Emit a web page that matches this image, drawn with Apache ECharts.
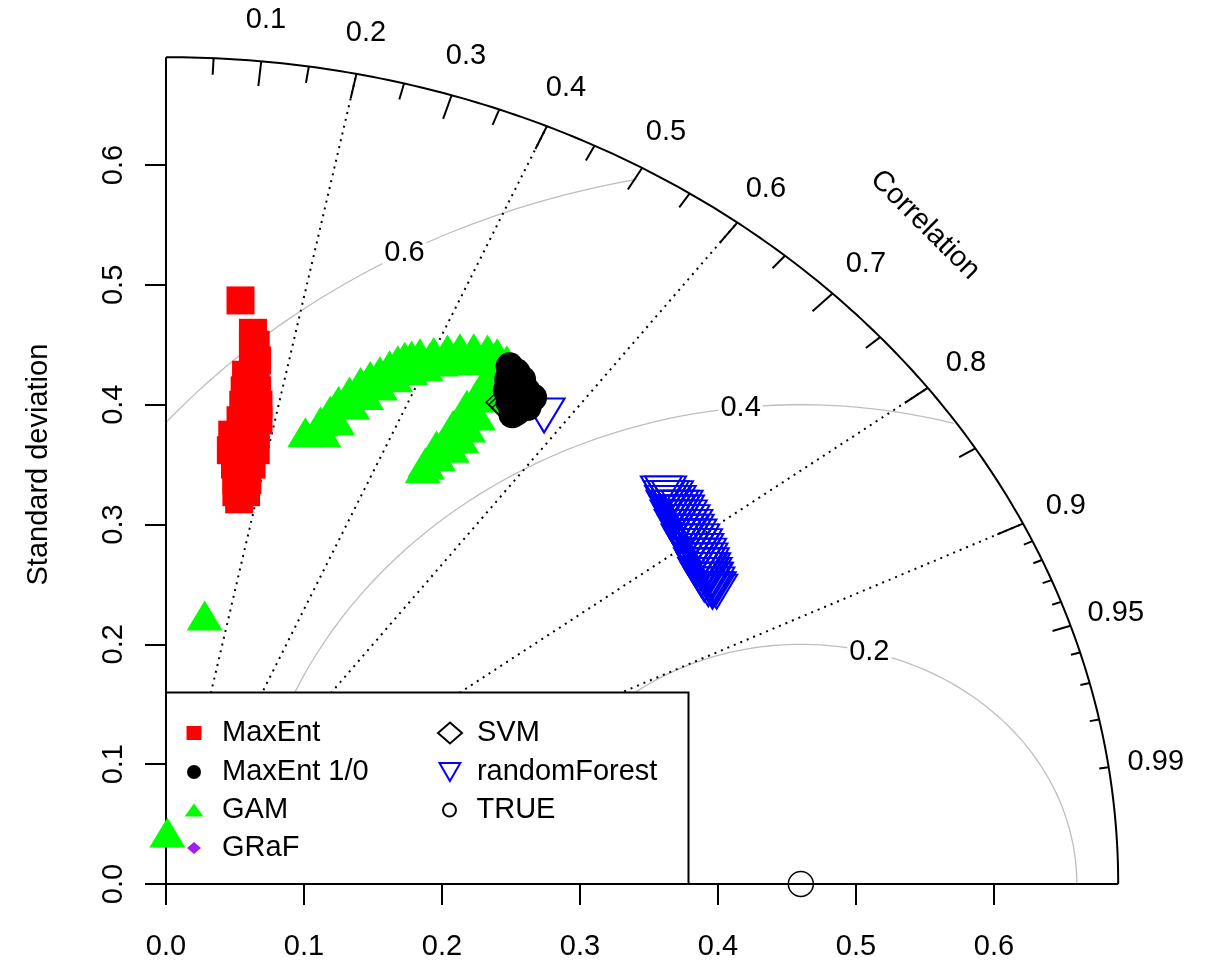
<!DOCTYPE html>
<html>
<head>
<meta charset="utf-8">
<script src="https://cdn.jsdelivr.net/npm/echarts@6/dist/echarts.min.js"></script>
<style>
  html, body { margin: 0; padding: 0; background: #ffffff; }
  #chart { width: 1207px; height: 962px; }
</style>
</head>
<body>
<div id="chart"></div>
<script>
// ---- Taylor diagram geometry ----
const MAX_SD = 0.69;          // radius of the outer correlation arc
const REF_SD = 0.46;          // standard deviation of the reference ("TRUE")
const sdTicks = [0, 0.1, 0.2, 0.3, 0.4, 0.5, 0.6];
const corrMajor = [0.1, 0.2, 0.3, 0.4, 0.5, 0.6, 0.7, 0.8, 0.9];
const corrMedium = [0.05, 0.15, 0.25, 0.35, 0.45, 0.55, 0.65, 0.75, 0.85, 0.95];
const corrMinor = [0.91, 0.92, 0.93, 0.94, 0.96, 0.97, 0.98, 0.99];
const corrRays = [0.2, 0.4, 0.6, 0.8, 0.9];
const corrLabels = ['0.1', '0.2', '0.3', '0.4', '0.5', '0.6', '0.7', '0.8', '0.9', '0.95', '0.99'];
const rmsLevels = [0.2, 0.4, 0.6];
const rmsLabelAngles = [1.32, 1.68, 2.07];

// ---- model results: [sd * correlation, sd * sqrt(1 - correlation^2)] ----
const maxEnt = [
  [0.054, 0.487],
  [0.063, 0.460],
  [0.063, 0.450], [0.065, 0.450],
  [0.063, 0.437], [0.066, 0.437],
  [0.058, 0.425], [0.065, 0.425],
  [0.057, 0.412], [0.066, 0.412],
  [0.056, 0.400], [0.067, 0.400],
  [0.054, 0.387], [0.067, 0.387],
  [0.048, 0.375], [0.057, 0.375], [0.065, 0.375],
  [0.047, 0.362], [0.057, 0.362], [0.065, 0.362],
  [0.050, 0.350], [0.062, 0.350],
  [0.051, 0.337], [0.059, 0.337],
  [0.051, 0.327], [0.058, 0.327],
  [0.053, 0.321]
];
const maxEnt10 = [
  [0.249, 0.432], [0.254, 0.427], [0.248, 0.421], [0.258, 0.421],
  [0.247, 0.412], [0.251, 0.412], [0.261, 0.412], [0.266, 0.406],
  [0.257, 0.404], [0.249, 0.402], [0.262, 0.398], [0.254, 0.394], [0.251, 0.392]
];
const gam = [
  // outer arm
  [0.101, 0.377], [0.112, 0.386], [0.119, 0.395], [0.125, 0.403], [0.133, 0.411],
  [0.141, 0.419], [0.148, 0.424], [0.155, 0.428], [0.162, 0.433], [0.168, 0.437],
  [0.173, 0.440], [0.178, 0.441], [0.184, 0.443], [0.194, 0.444], [0.204, 0.446],
  [0.213, 0.447], [0.223, 0.447], [0.233, 0.446], [0.240, 0.443], [0.247, 0.437],
  [0.130, 0.404], [0.141, 0.411], [0.149, 0.418], [0.159, 0.425], [0.170, 0.431],
  [0.180, 0.436], [0.191, 0.439], [0.202, 0.441], [0.213, 0.442], [0.224, 0.442],
  [0.235, 0.441],
  [0.114, 0.377], [0.124, 0.387], [0.135, 0.400], [0.145, 0.408], [0.155, 0.416],
  [0.166, 0.423], [0.177, 0.429], [0.188, 0.432], [0.199, 0.436], [0.209, 0.437],
  [0.220, 0.438], [0.231, 0.437],
  // inner arm
  [0.242, 0.433], [0.238, 0.425], [0.235, 0.427],
  [0.230, 0.416], [0.218, 0.400], [0.208, 0.383], [0.196, 0.366], [0.189, 0.350],
  [0.231, 0.406], [0.226, 0.391], [0.219, 0.381], [0.214, 0.372], [0.207, 0.364],
  [0.197, 0.357], [0.188, 0.352],
  [0.225, 0.408], [0.222, 0.396], [0.213, 0.389], [0.206, 0.375], [0.201, 0.369],
  [0.193, 0.358], [0.186, 0.347],
  // isolated runs
  [0.028, 0.224], [0.001, 0.043]
];
const graf = [];
const svm = [
  [0.245, 0.402], [0.247, 0.400], [0.249, 0.397], [0.262, 0.406]
];
const randomForest = [
  [0.274, 0.391],
  [0.359, 0.326], [0.362, 0.326],
  [0.361, 0.322], [0.364, 0.322], [0.367, 0.322],
  [0.362, 0.318], [0.366, 0.318], [0.369, 0.318],
  [0.363, 0.314], [0.367, 0.314], [0.371, 0.314], [0.374, 0.314],
  [0.365, 0.310], [0.368, 0.310], [0.372, 0.310], [0.375, 0.310],
  [0.366, 0.306], [0.370, 0.306], [0.373, 0.306], [0.377, 0.306],
  [0.368, 0.302], [0.371, 0.302], [0.375, 0.302], [0.379, 0.302],
  [0.369, 0.298], [0.373, 0.298], [0.377, 0.298], [0.381, 0.298],
  [0.371, 0.294], [0.375, 0.294], [0.378, 0.294], [0.382, 0.294],
  [0.373, 0.290], [0.376, 0.290], [0.380, 0.290], [0.384, 0.290],
  [0.374, 0.286], [0.378, 0.286], [0.382, 0.286], [0.386, 0.286],
  [0.376, 0.282], [0.380, 0.282], [0.384, 0.282], [0.388, 0.282],
  [0.378, 0.278], [0.382, 0.278], [0.386, 0.278], [0.389, 0.278],
  [0.380, 0.274], [0.384, 0.274], [0.387, 0.274], [0.391, 0.274],
  [0.382, 0.270], [0.385, 0.270], [0.389, 0.270], [0.392, 0.270],
  [0.383, 0.266], [0.387, 0.266], [0.390, 0.266], [0.393, 0.266],
  [0.385, 0.262], [0.389, 0.262], [0.392, 0.262], [0.394, 0.262],
  [0.386, 0.258], [0.390, 0.258], [0.393, 0.258], [0.395, 0.258],
  [0.388, 0.254], [0.392, 0.254], [0.395, 0.254], [0.396, 0.254],
  [0.390, 0.250], [0.394, 0.250], [0.397, 0.250],
  [0.393, 0.246], [0.396, 0.246], [0.398, 0.246],
  [0.396, 0.244], [0.399, 0.244]
];
const reference = [[REF_SD, 0]];

const FONT = '"Liberation Sans", Arial, Helvetica, sans-serif';
const FS = 29;

// Diagram frame: arc, axes, correlation ticks/rays/labels, centred RMS contours
function renderFrame(params, api) {
  const P = (x, y) => api.coord([x, y]);
  const polar = (r, c) => P(r * c, r * Math.sqrt(1 - c * c));
  const kids = [];
  const seg = (a, b, style) => kids.push({
    type: 'line', shape: { x1: a[0], y1: a[1], x2: b[0], y2: b[1] },
    style: Object.assign({ stroke: '#000', lineWidth: 2 }, style)
  });
  const text = (pt, str, extra) => kids.push(Object.assign({
    type: 'text', x: pt[0], y: pt[1],
    style: { text: str, fill: '#000', fontSize: FS, fontFamily: FONT, align: 'center', verticalAlign: 'middle' }
  }, extra || {}));

  // centred RMS difference contours around the reference point
  rmsLevels.forEach(function (g) {
    let pts = [];
    const flush = function () {
      if (pts.length > 1) kids.push({ type: 'polyline', shape: { points: pts },
        style: { stroke: '#bebebe', lineWidth: 1.3, fill: null } });
      pts = [];
    };
    for (let t = 0; t <= Math.PI + 1e-9; t += 0.03) {
      const x = REF_SD + g * Math.cos(t), y = g * Math.sin(t);
      if (x < 0) {
        if (pts.length) pts.push(P(0, Math.sqrt(g * g - REF_SD * REF_SD)));
        flush();
        break;
      }
      if (Math.hypot(x, y) < MAX_SD) pts.push(P(x, y)); else flush();
    }
    flush();
  });

  // correlation rays
  corrRays.forEach(function (c) {
    seg(P(0, 0), polar(MAX_SD, c), { lineDash: [2, 5], lineWidth: 2 });
  });

  // outer arc and the two straight axes
  const arc = [];
  for (let d = 0; d <= 90.0001; d += 0.5) {
    const a = d * Math.PI / 180;
    arc.push(P(MAX_SD * Math.cos(a), MAX_SD * Math.sin(a)));
  }
  kids.push({ type: 'polyline', shape: { points: arc }, style: { stroke: '#000', lineWidth: 2, fill: null } });
  seg(P(0, 0), P(0, MAX_SD));
  seg(P(0, 0), P(MAX_SD, 0));

  // tick marks on the arc
  corrMajor.forEach(c => seg(polar(MAX_SD, c), polar(0.97 * MAX_SD, c)));
  corrMedium.forEach(c => seg(polar(MAX_SD, c), polar(0.98 * MAX_SD, c)));
  corrMinor.forEach(c => seg(polar(MAX_SD, c), polar(0.99 * MAX_SD, c)));

  // correlation labels
  corrLabels.forEach(s => text(polar(1.05 * MAX_SD, parseFloat(s)), s));
  text(P(0.55, 0.55), 'Correlation', { rotation: -Math.PI / 4 });

  // contour labels
  rmsLevels.forEach(function (g, i) {
    const a = rmsLabelAngles[i];
    kids.push({
      type: 'text', x: P(REF_SD + g * Math.cos(a), 0)[0], y: P(0, g * Math.sin(a))[1],
      style: { text: String(g), fill: '#000', fontSize: FS, fontFamily: FONT,
        align: 'center', verticalAlign: 'middle', backgroundColor: '#fff', padding: [0, 2] }
    });
  });
  return { type: 'group', children: kids };
}

const solid = color => ({ color: color, opacity: 1 });
const hollow = (color, w) => ({ color: 'rgba(0,0,0,0)', borderColor: color, borderWidth: w || 1.5, opacity: 1 });

// legend entries: one legend component each so every key gets its own symbol size
const DOWN_TRIANGLE = 'path://M0,0L20,0L10,17.3Z';
const legendItems = [
  { name: 'MaxEnt', col: 0, row: 0, w: 15, h: 14 },
  { name: 'MaxEnt 1/0', col: 0, row: 1, w: 14, h: 14 },
  { name: 'GAM', col: 0, row: 2, w: 19, h: 13 },
  { name: 'GRaF', col: 0, row: 3, w: 14, h: 12 },
  { name: 'SVM', col: 1, row: 0, w: 24, h: 21 },
  { name: 'randomForest', col: 1, row: 1, w: 21, h: 18, icon: DOWN_TRIANGLE },
  { name: 'TRUE', col: 1, row: 2, w: 14, h: 13 }
];
const colIconX = [194, 449];
const colTextX = [222, 476];
const rowY = [733, 772, 810, 848];
const LINE_H = 30;

const legends = legendItems.map(function (it) {
  const left = colIconX[it.col] - it.w / 2;
  return {
    data: [it.icon ? { name: it.name, icon: it.icon } : it.name],
    orient: 'vertical', selectedMode: false, padding: 0, z: 6,
    left: left, top: rowY[it.row] - LINE_H / 2,
    itemWidth: it.w, itemHeight: it.h, itemGap: 0,
    textStyle: { fontSize: FS, fontFamily: FONT, color: '#000', lineHeight: LINE_H,
      padding: [0, 0, 0, colTextX[it.col] - (left + it.w + 5)] }
  };
});

const option = {
  backgroundColor: '#ffffff',
  animation: false,
  grid: { left: 166, right: 75, top: 45.2, bottom: 78, containLabel: false, outerBoundsMode: 'none' },
  xAxis: {
    type: 'value', min: 0, max: 0.7,
    axisLine: { show: false }, splitLine: { show: false },
    axisTick: { customValues: sdTicks, length: 21, lineStyle: { color: '#000', width: 2 } },
    axisLabel: { customValues: sdTicks, formatter: v => v.toFixed(1), fontSize: FS, fontFamily: FONT, color: '#000', margin: 48 }
  },
  yAxis: {
    type: 'value', min: 0, max: 0.7,
    name: 'Standard deviation', nameLocation: 'middle', nameGap: 113,
    nameTextStyle: { fontSize: FS, fontFamily: FONT, color: '#000' },
    axisLine: { show: false }, splitLine: { show: false },
    axisTick: { customValues: sdTicks, length: 21, lineStyle: { color: '#000', width: 2 } },
    axisLabel: { customValues: sdTicks, formatter: v => v.toFixed(1), rotate: 90, fontSize: FS, fontFamily: FONT, color: '#000', margin: 38 }
  },
  legend: legends,
  graphic: [{
    type: 'rect', z: 5, silent: true,
    shape: { x: 166, y: 692.5, width: 522.5, height: 191.5 },
    style: { fill: '#fff', stroke: '#000', lineWidth: 2 }
  }],
  series: [
    { type: 'custom', name: 'frame', coordinateSystem: 'cartesian2d', data: [[0, 0]],
      renderItem: renderFrame, silent: true, z: 1 },
    { type: 'scatter', name: 'MaxEnt', data: maxEnt, symbol: 'rect', symbolSize: 28,
      itemStyle: solid('#ff0000'), z: 8, silent: true },
    { type: 'scatter', name: 'GAM', data: gam, symbol: 'triangle', symbolSize: [36, 30],
      itemStyle: solid('#00ff00'), z: 8, silent: true },
    { type: 'scatter', name: 'randomForest', data: randomForest, symbol: 'triangle', symbolRotate: 180,
      symbolSize: [41, 34], itemStyle: hollow('#0000ff', 2), z: 8, silent: true },
    { type: 'scatter', name: 'SVM', data: svm, symbol: 'diamond', symbolSize: [36, 34],
      itemStyle: hollow('#000000'), z: 8, silent: true },
    { type: 'scatter', name: 'MaxEnt 1/0', data: maxEnt10, symbol: 'circle', symbolSize: 28,
      itemStyle: solid('#000000'), z: 8, silent: true },
    { type: 'scatter', name: 'GRaF', data: graf, symbol: 'diamond', symbolSize: 20,
      itemStyle: solid('#a020f0'), z: 8, silent: true },
    { type: 'scatter', name: 'TRUE', data: reference, symbol: 'circle', symbolSize: 25,
      itemStyle: hollow('#000000'), z: 8, silent: true }
  ]
};

const chart = echarts.init(document.getElementById('chart'));
chart.setOption(option);
</script>
</body>
</html>
